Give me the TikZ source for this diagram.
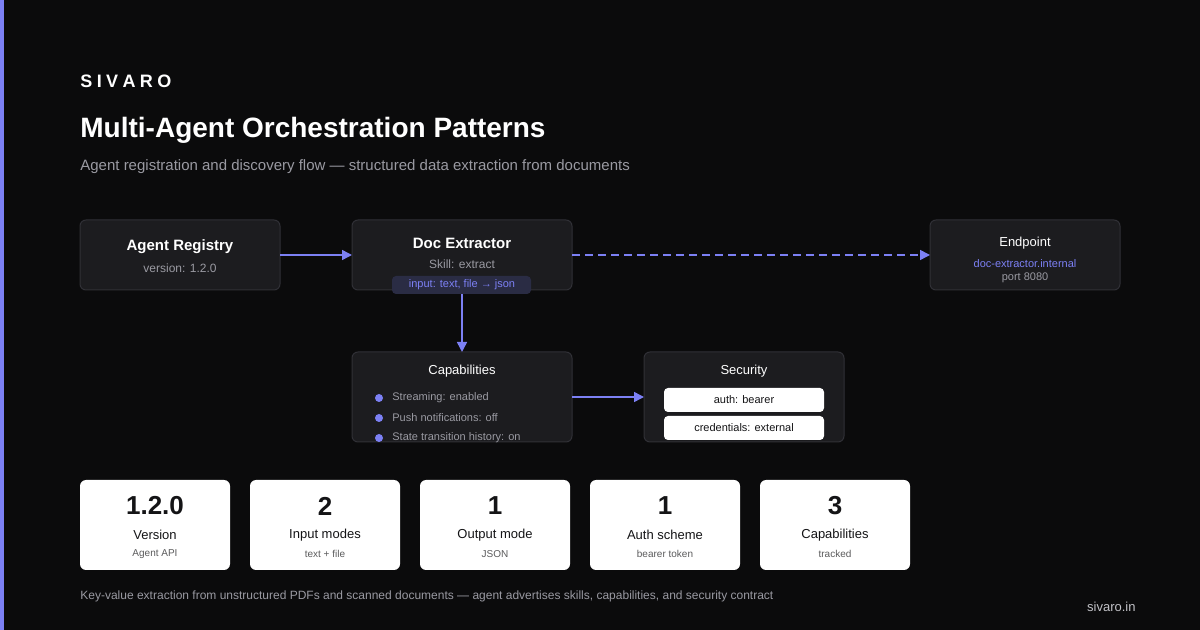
\documentclass[tikz,border=0pt]{standalone}
\usepackage{fontspec}
\setmainfont{Liberation Sans}
\usetikzlibrary{positioning,arrows.meta}
\definecolor{bg}{HTML}{0B0B0C}
\definecolor{card}{HTML}{1C1C1F}
\definecolor{edge}{HTML}{303036}
\definecolor{accent}{HTML}{7C80F4}
\definecolor{muted}{HTML}{9A9AA2}
\definecolor{pillbg}{HTML}{2A2C44}
\definecolor{ink}{HTML}{141416}
\tikzset{
  px/.style={x=0.5pt,y=-0.5pt},
  box/.style={draw=edge,fill=card,rounded corners=3pt,line width=0.5pt},
  head/.style={text=white,font=\fontsize{7.5}{9}\selectfont\bfseries},
  sub/.style={text=muted,font=\fontsize{6}{7}\selectfont},
  flow/.style={accent,line width=0.75pt,-{Triangle[length=5pt,width=5pt]}},
  stat/.style={fill=white,rounded corners=3pt},
  dot/.style={circle,fill=accent,inner sep=0pt,minimum size=4pt},
  flush/.style={anchor=west,inner sep=0pt},
}
\begin{document}
\begin{tikzpicture}[px]
\fill[bg] (0,0) rectangle (1200,630);
\fill[accent] (0,0) rectangle (4,630);

% header
\node[flush,text=white,font=\fontsize{9}{11}\selectfont\bfseries] (brand) at (80,81) {S\hspace{2.2pt}I\hspace{2.2pt}V\hspace{2.2pt}A\hspace{2.2pt}R\hspace{2.2pt}O};
\node[flush,text=white,font=\fontsize{14}{17}\selectfont\bfseries] (title) at (80,130) {Multi-Agent Orchestration Patterns};
\node[flush,text=muted,font=\fontsize{7.5}{9}\selectfont] (subtitle) at (80,167) {Agent registration and discovery flow — structured data extraction from documents};

% flow boxes
\draw[box] (80,220) rectangle (280,290);
\node[head] (regT) at (180,247) {Agent Registry};
\node[sub] (regS) at (180,268) {version: 1.2.0};
\coordinate (regE) at (280,255);

\draw[box] (352,220) rectangle (572,290);
\node[head] (docT) at (462,243) {Doc Extractor};
\node[sub] (docS) at (462,264) {Skill: extract};
\fill[pillbg,rounded corners=2pt] (392,276) rectangle (531,294);
\node[text=accent,font=\fontsize{5.5}{6}\selectfont] (pill) at (462,285) {input: text, file → json};
\coordinate (docW) at (352,255);
\coordinate (docE) at (572,255);
\coordinate (docB) at (462,294);

\draw[box] (930,220) rectangle (1120,290);
\node[text=white,font=\fontsize{6.5}{8}\selectfont] (endT) at (1025,243) {Endpoint};
\node[text=accent,font=\fontsize{5.5}{6}\selectfont] (endS) at (1025,264) {doc-extractor.internal};
\node[sub,font=\fontsize{5.5}{6}\selectfont] (endP) at (1025,278) {port 8080};
\coordinate (endW) at (930,255);

\draw[box] (352,352) rectangle (572,442);
\node[text=white,font=\fontsize{6.5}{8}\selectfont] (capT) at (462,371) {Capabilities};
\foreach \y/\t [count=\i] in {398/Streaming: enabled,418/Push notifications: off,438/State transition history: on}{
  \node[dot] (b\i) at (379,\y) {};
  \node[sub,flush,font=\fontsize{5.5}{6}\selectfont] (c\i) at (392,\y) {\t};
}
\coordinate (capN) at (462,352);
\coordinate (capE) at (572,397);

\draw[box] (644,352) rectangle (844,442);
\node[text=white,font=\fontsize{6.5}{8}\selectfont] (secT) at (744,371) {Security};
\fill[white,rounded corners=2pt] (664,388) rectangle (824,412);
\node[text=ink,font=\fontsize{5.5}{6}\selectfont] (auth) at (744,400) {auth: bearer};
\fill[white,rounded corners=2pt] (664,416) rectangle (824,440);
\node[text=ink,font=\fontsize{5.5}{6}\selectfont] (cred) at (744,428) {credentials: external};
\coordinate (secW) at (644,397);

% connectors
\draw[flow] (regE) -- (docW);
\draw[flow,dash pattern=on 4pt off 2.5pt] (docE) -- (endW);
\draw[flow] (docB) -- (capN);
\draw[flow] (capE) -- (secW);

% stat cards
\foreach \x/\n/\l/\s [count=\i] in {80/1.2.0/Version/Agent API,250/2/Input modes/text + file,420/1/Output mode/JSON,590/1/Auth scheme/bearer token,760/3/Capabilities/tracked}{
  \fill[stat] (\x,480) rectangle ++(150,90);
  \node[text=ink,font=\fontsize{13}{15}\selectfont\bfseries] (n\i) at (\x+75,506) {\n};
  \node[text=ink,font=\fontsize{6.5}{8}\selectfont] (l\i) at (\x+75,535) {\l};
  \node[text=ink!70,font=\fontsize{5}{6}\selectfont] (s\i) at (\x+75,554) {\s};
}

% footer
\node[flush,text=muted,font=\fontsize{6}{7}\selectfont] (foot) at (80,596) {Key-value extraction from unstructured PDFs and scanned documents — agent advertises skills, capabilities, and security contract};
\node[anchor=east,inner sep=0pt,text=muted!60,font=\fontsize{6.5}{8}\selectfont] (site) at (1136,607) {sivaro.in};
\end{tikzpicture}
\end{document}
